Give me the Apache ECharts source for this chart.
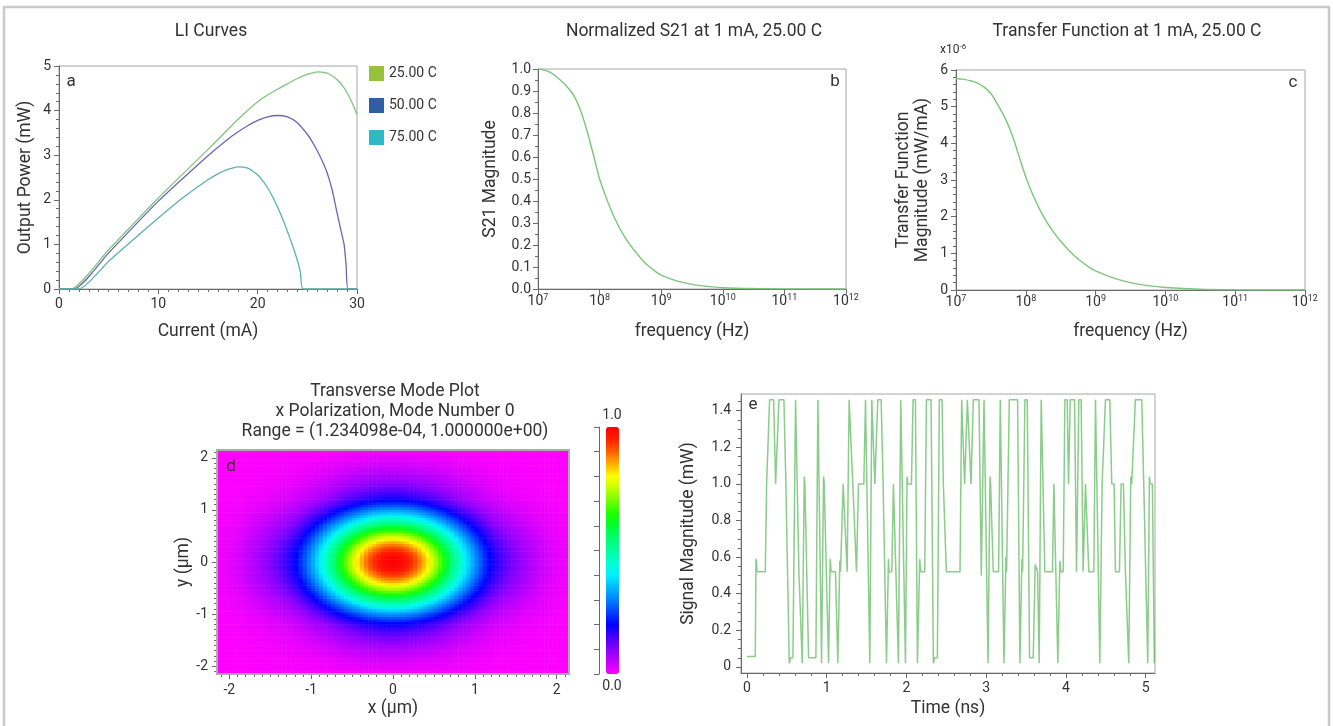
<!DOCTYPE html>
<html>
<head>
<meta charset="utf-8">
<script src="https://cdn.jsdelivr.net/npm/echarts@6/dist/echarts.min.js"></script>
<style>
  html, body { margin: 0; padding: 0; background: #fff; }
  #main { width: 1333px; height: 726px; }
</style>
</head>
<body>
<div id="main"></div>
<script>
// ---------- LI curves (current in mA, output power in mW) ----------
const liNames = ['25.00 C', '50.00 C', '75.00 C'];
const liCurrent25 = [0, 1.2, 5, 10, 15, 18, 20, 21, 22, 23, 24, 25, 26, 27, 27.5, 28, 28.5, 29, 29.5, 30];
const liPower25   = [0, 0, 0.88, 2.04, 3.13, 3.8, 4.2, 4.35, 4.48, 4.6, 4.72, 4.81, 4.87, 4.84, 4.78, 4.69, 4.57, 4.4, 4.18, 3.91];
const liCurrent50 = [0, 1.5, 5, 10, 15, 17, 18, 19, 20, 21, 22, 23, 24, 25, 25.5, 26, 26.5, 27, 27.5, 28, 28.4, 28.7, 28.9, 29.1, 30];
const liPower50   = [0, 0, 0.81, 1.97, 2.99, 3.36, 3.52, 3.66, 3.78, 3.86, 3.89, 3.86, 3.73, 3.47, 3.3, 3.1, 2.87, 2.6, 2.22, 1.7, 1.3, 1.0, 0.55, 0, 0];
const liCurrent75 = [0, 2.0, 5, 10, 12.5, 15, 16, 17, 18, 19, 20, 21, 21.5, 22, 22.5, 23, 23.5, 24, 24.3, 24.6, 30];
const liPower75   = [0, 0, 0.62, 1.59, 2.05, 2.45, 2.58, 2.68, 2.74, 2.71, 2.56, 2.27, 2.07, 1.84, 1.58, 1.29, 0.98, 0.64, 0.38, 0, 0];

// ---------- frequency responses (shared frequency grid, Hz) ----------
const respFreq = [1e7, 1.26e7, 1.58e7, 2.0e7, 2.51e7, 3.16e7, 3.98e7, 5.01e7, 6.31e7, 7.94e7,
                  1e8, 1.26e8, 1.58e8, 2.0e8, 2.51e8, 3.16e8, 3.98e8, 5.01e8, 6.31e8, 7.94e8,
                  1e9, 1.78e9, 3.16e9, 5.62e9, 1e10, 3.16e10, 1e11, 1e12];
// Normalized S21
const s21Mag = [1.0, 0.995, 0.985, 0.965, 0.94, 0.91, 0.87, 0.805, 0.715, 0.61,
                0.5, 0.42, 0.35, 0.29, 0.24, 0.198, 0.163, 0.13, 0.103, 0.081,
                0.063, 0.037, 0.021, 0.012, 0.006, 0.002, 0.0005, 0];
// Transfer function magnitude, x1e-6 mW/mA
const tfMag = [5.77, 5.75, 5.71, 5.65, 5.54, 5.36, 5.05, 4.7, 4.25, 3.67,
               3.08, 2.6, 2.2, 1.85, 1.57, 1.33, 1.12, 0.93, 0.77, 0.63,
               0.52, 0.33, 0.2, 0.12, 0.07, 0.02, 0.005, 0];

// ---------- Transverse mode: field profile sampled at |x| = 0.025, 0.075, ... 2.125 um ----------
const modeProfile = [0.999, 0.994, 0.982, 0.966, 0.944, 0.918, 0.887, 0.852, 0.814, 0.774,
                     0.731, 0.687, 0.641, 0.596, 0.550, 0.505, 0.461, 0.419, 0.378, 0.340,
                     0.303, 0.269, 0.237, 0.205, 0.184, 0.166, 0.150, 0.135, 0.121, 0.108,
                     0.096, 0.085, 0.075, 0.066, 0.057, 0.049, 0.042, 0.035, 0.029, 0.024,
                     0.019, 0.015, 0.0115];
const modeStep = 0.05;
const modeTicks = [-2, -1, 0, 1, 2];
const modeColors = ['#ff00ff', '#c000ff', '#8800ff', '#4400ff', '#0000ff', '#0040ff', '#0080ff',
                    '#00b8ff', '#00f0ff', '#00ffd0', '#00ffa0', '#00ff70', '#00ff30', '#20ff00',
                    '#70ff00', '#c0ff00', '#ffff00', '#ffb000', '#ff6000', '#ff2000', '#ff0000'];

// ---------- Signal trace: [time ns, magnitude mW] ----------
const signalTrace = [
  [0.000,0.057],[0.104,0.057],[0.113,0.59],[0.129,0.52],[0.230,0.52],[0.246,1.0],[0.267,1.0],[0.284,1.46],
  [0.334,1.46],[0.359,1.0],[0.384,1.0],[0.401,1.46],[0.463,1.46],[0.488,1.0],[0.501,1.0],[0.530,0.02],
  [0.547,0.05],[0.576,0.05],[0.609,1.46],[0.622,1.46],[0.651,0.52],[0.664,0.52],[0.693,0.02],[0.718,1.04],
  [0.726,1.0],[0.743,1.0],[0.772,0.05],[0.864,0.05],[0.889,1.46],[0.906,1.46],[0.935,0.02],[0.960,1.04],
  [0.968,1.0],[0.993,1.0],[1.023,0.02],[1.043,0.59],[1.056,0.52],[1.110,0.52],[1.139,0.02],[1.164,0.58],
  [1.173,0.52],[1.206,1.0],[1.231,1.0],[1.256,0.52],[1.281,1.46],[1.306,1.46],[1.327,1.0],[1.352,1.0],
  [1.373,0.52],[1.381,0.52],[1.398,1.0],[1.465,1.0],[1.486,1.46],[1.507,1.46],[1.540,0.02],[1.565,1.46],
  [1.586,1.46],[1.603,1.0],[1.619,1.0],[1.640,1.46],[1.682,1.46],[1.707,1.0],[1.724,1.0],[1.749,0.02],
  [1.774,0.59],[1.782,0.52],[1.816,0.52],[1.836,1.0],[1.861,1.0],[1.899,0.02],[1.928,1.46],[1.949,1.46],
  [1.987,0.02],[2.007,1.04],[2.016,1.0],[2.062,1.0],[2.083,1.46],[2.112,1.46],[2.137,0.02],[2.166,0.59],
  [2.179,0.52],[2.229,0.52],[2.250,1.46],[2.308,1.46],[2.337,0.02],[2.354,0.05],[2.387,0.05],[2.412,1.46],
  [2.446,1.46],[2.462,1.0],[2.479,1.0],[2.500,0.52],[2.671,0.52],[2.692,1.46],[2.713,1.46],[2.729,1.0],
  [2.746,1.0],[2.763,1.46],[2.788,1.46],[2.809,1.0],[2.817,1.0],[2.838,1.46],[2.909,1.46],[2.938,0.5],
  [2.946,0.5],[2.972,1.46],[2.988,1.46],[3.022,0.02],[3.047,1.04],[3.055,1.0],[3.072,1.0],[3.088,0.52],
  [3.155,0.52],[3.176,1.46],[3.197,1.46],[3.222,0.02],[3.247,0.6],[3.255,0.52],[3.268,0.52],[3.289,1.46],
  [3.393,1.46],[3.422,0.02],[3.447,0.59],[3.456,0.52],[3.485,1.46],[3.514,1.46],[3.543,0.05],[3.589,0.05],
  [3.614,0.56],[3.643,0.52],[3.664,0.02],[3.689,1.46],[3.710,1.46],[3.735,0.52],[3.831,0.52],[3.848,1.0],
  [3.873,1.0],[3.898,0.02],[3.923,0.58],[3.936,0.52],[3.965,0.52],[3.986,1.46],[4.015,1.46],[4.032,1.0],
  [4.040,1.0],[4.053,1.46],[4.107,1.46],[4.132,0.52],[4.140,0.52],[4.161,1.46],[4.190,1.46],[4.215,0.52],
  [4.224,0.52],[4.245,1.0],[4.270,1.0],[4.286,0.52],[4.349,0.52],[4.370,1.46],[4.391,1.46],[4.424,0.02],
  [4.453,1.0],[4.474,1.0],[4.495,1.46],[4.549,1.46],[4.574,1.0],[4.603,1.0],[4.620,0.52],[4.670,0.52],
  [4.691,1.0],[4.720,1.0],[4.745,0.52],[4.754,0.52],[4.787,0.02],[4.812,1.04],[4.824,1.0],[4.849,1.0],
  [4.870,1.46],[4.950,1.46],[4.975,1.0],[5.000,1.0],[5.025,0.02],[5.046,1.04],[5.054,1.0],[5.083,1.0],
  [5.108,0.02]
];
const signalTimeTicks = [0, 1, 2, 3, 4, 5];
const signalMagTicks = [0, 0.2, 0.4, 0.6, 0.8, 1.0, 1.2, 1.4];

// ---------- styling ----------
const FONT = 'Roboto, "Noto Sans", sans-serif';
const TXT = '#333';
const AXC = '#6a6a6a';
const BORDER = '#a6a6a6';
const BIG = 17.5;
const tickLabel = { color: TXT, fontFamily: FONT, fontSize: 14 };
const nameStyle = { color: TXT, fontFamily: FONT, fontSize: BIG };
const axLine = { onZero: false, lineStyle: { color: AXC, width: 1 } };
const majTick = { length: 5, lineStyle: { color: AXC } };
const minTick = (n) => ({ show: true, splitNumber: n, length: 3, lineStyle: { color: AXC } });
const noSplit = { show: false };

function zip(a, b) { return a.map((v, i) => [v, b[i]]); }
function steps(from, to, step) {
  const out = [];
  for (let v = from; v <= to + 1e-9; v += step) out.push(Math.round(v * 1000) / 1000);
  return out;
}
const powLabel = {
  ...tickLabel,
  formatter: (v) => '10{s|' + Math.round(Math.log10(v)) + '}',
  rich: { s: { fontSize: 9, color: TXT, fontFamily: FONT, padding: [0, 0, 8, 0] } }
};

// mode field table: outer product of the sampled profile mirrored about 0
const modeFull = modeProfile.slice().reverse().concat(modeProfile);
const modeCats = modeFull.map((_, i) => (-(modeProfile.length - 0.5) * modeStep + i * modeStep).toFixed(3));
const modeData = [];
for (let i = 0; i < modeFull.length; i++) {
  for (let j = 0; j < modeFull.length; j++) {
    modeData.push([i, j, modeFull[i] * modeFull[j]]);
  }
}
const modeHalf = modeProfile.length * modeStep;

function txt(text, x, y, size, extra) {
  return {
    type: 'text', x, y, silent: true, z: 10,
    style: Object.assign({ text, fill: TXT, fontSize: size, fontFamily: FONT, align: 'center', verticalAlign: 'middle' }, extra || {})
  };
}

const chart = echarts.init(document.getElementById('main'), null, { renderer: 'canvas' });
chart.setOption({
  animation: false,
  backgroundColor: '#fff',
  grid: [
    { left: 59, top: 66, width: 298, height: 223, show: true, borderColor: BORDER, borderWidth: 1 },
    { left: 538, top: 69, width: 308, height: 220, show: true, borderColor: BORDER, borderWidth: 1 },
    { left: 956, top: 70, width: 349, height: 220, show: true, borderColor: BORDER, borderWidth: 1 },
    { left: 217, top: 450, width: 352, height: 224, show: true, z: 5, borderColor: '#ababab', borderWidth: 2 },
    { left: 599, top: 427, width: 7, height: 247, show: false },
    { left: 741, top: 394, width: 414, height: 279, show: true, borderColor: BORDER, borderWidth: 1 }
  ],
  legend: {
    orient: 'vertical', left: 369, top: 66, padding: 0, itemWidth: 15, itemHeight: 15, itemGap: 17,
    icon: 'rect', selectedMode: false, textStyle: { color: TXT, fontFamily: FONT, fontSize: 14 },
    data: [
      { name: liNames[0], itemStyle: { color: '#95c13d' } },
      { name: liNames[1], itemStyle: { color: '#2e5fa0' } },
      { name: liNames[2], itemStyle: { color: '#2eb7c4' } }
    ]
  },
  visualMap: {
    type: 'continuous', seriesIndex: 5, min: 0, max: 1, calculable: false, hoverLink: false,
    left: 606, top: 427, itemWidth: 13, itemHeight: 247, padding: 0, text: null, showLabel: false,
    inRange: { color: modeColors }
  },
  xAxis: [
    { gridIndex: 0, type: 'value', min: 0, max: 30, interval: 10, axisLine: axLine, axisTick: majTick,
      minorTick: minTick(10), splitLine: noSplit, axisLabel: { ...tickLabel, margin: 8 },
      name: 'Current (mA)', nameLocation: 'middle', nameGap: 34, nameTextStyle: nameStyle },
    { gridIndex: 1, type: 'log', logBase: 10, min: 1e7, max: 1e12, axisLine: axLine, axisTick: majTick,
      splitLine: noSplit, axisLabel: { ...powLabel, margin: 4 },
      name: 'frequency (Hz)', nameLocation: 'middle', nameGap: 34, nameTextStyle: nameStyle },
    { gridIndex: 2, type: 'log', logBase: 10, min: 1e7, max: 1e12, axisLine: axLine, axisTick: majTick,
      splitLine: noSplit, axisLabel: { ...powLabel, margin: 4 },
      name: 'frequency (Hz)', nameLocation: 'middle', nameGap: 33, nameTextStyle: nameStyle },
    { gridIndex: 3, type: 'category', data: modeCats, show: false },
    { gridIndex: 3, type: 'value', position: 'bottom', min: -modeHalf, max: modeHalf, axisLine: { show: false, onZero: false },
      axisTick: { ...majTick, customValues: modeTicks }, splitLine: noSplit,
      axisLabel: { ...tickLabel, margin: 9, customValues: modeTicks },
      name: 'x (µm)', nameLocation: 'middle', nameGap: 26, nameTextStyle: nameStyle },
    { gridIndex: 3, type: 'value', position: 'bottom', min: -modeHalf, max: modeHalf, axisLine: { show: false, onZero: false },
      axisTick: { length: 3, lineStyle: { color: AXC }, customValues: steps(-2.1, 2.1, 0.1) },
      axisLabel: { show: false }, splitLine: noSplit },
    { gridIndex: 4, type: 'value', show: false },
    { gridIndex: 5, type: 'value', position: 'bottom', min: -0.075, max: 5.116, axisLine: axLine,
      axisTick: { ...majTick, customValues: signalTimeTicks }, splitLine: noSplit,
      axisLabel: { ...tickLabel, margin: 8, customValues: signalTimeTicks },
      name: 'Time (ns)', nameLocation: 'middle', nameGap: 27, nameTextStyle: nameStyle },
    { gridIndex: 5, type: 'value', position: 'bottom', min: -0.075, max: 5.116, axisLine: { show: false, onZero: false },
      axisTick: { length: 3, lineStyle: { color: AXC }, customValues: steps(0, 5.0, 0.2) },
      axisLabel: { show: false }, splitLine: noSplit }
  ],
  yAxis: [
    { gridIndex: 0, type: 'value', min: 0, max: 5, interval: 1, axisLine: axLine, axisTick: majTick,
      minorTick: minTick(5), splitLine: noSplit, axisLabel: { ...tickLabel, margin: 8 },
      name: 'Output Power (mW)', nameLocation: 'middle', nameGap: 24, nameTextStyle: nameStyle },
    { gridIndex: 1, type: 'value', min: 0, max: 1, interval: 0.1, axisLine: axLine, axisTick: majTick,
      minorTick: minTick(2), splitLine: noSplit,
      axisLabel: { ...tickLabel, margin: 7, formatter: (v) => v.toFixed(1) },
      name: 'S21 Magnitude', nameLocation: 'middle', nameGap: 38, nameTextStyle: nameStyle },
    { gridIndex: 2, type: 'value', min: 0, max: 6, interval: 1, axisLine: axLine, axisTick: majTick,
      minorTick: minTick(5), splitLine: noSplit, axisLabel: { ...tickLabel, margin: 8 },
      name: 'Transfer Function\nMagnitude (mW/mA)', nameLocation: 'middle', nameGap: 24,
      nameTextStyle: { ...nameStyle, lineHeight: 19 } },
    { gridIndex: 3, type: 'category', data: modeCats, show: false },
    { gridIndex: 3, type: 'value', position: 'left', min: -modeHalf, max: modeHalf, axisLine: { show: false, onZero: false },
      axisTick: { ...majTick, customValues: modeTicks }, splitLine: noSplit,
      axisLabel: { ...tickLabel, margin: 9, customValues: modeTicks },
      name: 'y (µm)', nameLocation: 'middle', nameGap: 23, nameTextStyle: nameStyle },
    { gridIndex: 3, type: 'value', position: 'left', min: -modeHalf, max: modeHalf, axisLine: { show: false, onZero: false },
      axisTick: { length: 3, lineStyle: { color: AXC }, customValues: steps(-2.1, 2.1, 0.1) },
      axisLabel: { show: false }, splitLine: noSplit },
    { gridIndex: 4, type: 'value', min: 0, max: 1, interval: 0.1, axisLine: axLine,
      axisTick: { length: 5, lineStyle: { color: AXC } }, axisLabel: { show: false }, splitLine: noSplit },
    { gridIndex: 5, type: 'value', position: 'left', min: -0.033, max: 1.491, axisLine: axLine,
      axisTick: { ...majTick, customValues: signalMagTicks }, splitLine: noSplit,
      axisLabel: { ...tickLabel, margin: 10, customValues: signalMagTicks, formatter: (v) => (v === 0 ? '0' : v.toFixed(1)) },
      name: 'Signal Magnitude (mW)', nameLocation: 'middle', nameGap: 43, nameTextStyle: nameStyle },
    { gridIndex: 5, type: 'value', position: 'left', min: -0.033, max: 1.491, axisLine: { show: false, onZero: false },
      axisTick: { length: 3, lineStyle: { color: AXC }, customValues: steps(0, 1.45, 0.05) },
      axisLabel: { show: false }, splitLine: noSplit }
  ],
  series: [
    { type: 'line', name: liNames[0], xAxisIndex: 0, yAxisIndex: 0, data: zip(liCurrent25, liPower25),
      showSymbol: false, smooth: 0.2, lineStyle: { color: '#80c47e', width: 1.3 }, itemStyle: { color: '#95c13d' } },
    { type: 'line', name: liNames[1], xAxisIndex: 0, yAxisIndex: 0, data: zip(liCurrent50, liPower50),
      showSymbol: false, smooth: 0.2, lineStyle: { color: '#6a66b4', width: 1.3 }, itemStyle: { color: '#2e5fa0' } },
    { type: 'line', name: liNames[2], xAxisIndex: 0, yAxisIndex: 0, data: zip(liCurrent75, liPower75),
      showSymbol: false, smooth: 0.2, lineStyle: { color: '#5cb3a6', width: 1.3 }, itemStyle: { color: '#2eb7c4' } },
    { type: 'line', name: 'S21', xAxisIndex: 1, yAxisIndex: 1, data: zip(respFreq, s21Mag),
      showSymbol: false, smooth: 0.3, lineStyle: { color: '#7cc67c', width: 1.4 } },
    { type: 'line', name: 'Transfer', xAxisIndex: 2, yAxisIndex: 2, data: zip(respFreq, tfMag),
      showSymbol: false, smooth: 0.3, lineStyle: { color: '#7cc67c', width: 1.4 } },
    { type: 'heatmap', name: 'mode', xAxisIndex: 3, yAxisIndex: 3, data: modeData, progressive: 0,
      emphasis: { disabled: true }, itemStyle: { borderWidth: 0 } },
    { type: 'line', name: 'signal', xAxisIndex: 7, yAxisIndex: 7, data: signalTrace,
      showSymbol: false, lineStyle: { color: 'rgba(60,170,60,0.6)', width: 1.5 } }
  ],
  graphic: [
    { type: 'rect', silent: true, z: 0, shape: { x: 4, y: 7, width: 1325, height: 740 },
      style: { fill: 'none', stroke: '#cacaca', lineWidth: 2.5 } },
    txt('LI Curves', 211, 32, BIG),
    txt('Normalized S21 at 1 mA, 25.00 C', 694, 32, BIG),
    txt('Transfer Function at 1 mA, 25.00 C', 1127, 32, BIG),
    txt('Transverse Mode Plot\nx Polarization, Mode Number 0\nRange = (1.234098e-04, 1.000000e+00)', 395, 412, BIG, { lineHeight: 20 }),
    txt('a', 71, 82, 17),
    txt('b', 835, 82, 17),
    txt('c', 1293, 83, 17),
    txt('d', 231, 467, 17),
    txt('e', 753, 405, 17),
    txt('1.0', 612, 415, 14),
    txt('0.0', 612, 686, 14),
    txt('x10{s|-6}', 940, 50, 12, { align: 'left', rich: { s: { fontSize: 8, fill: TXT, fontFamily: FONT, padding: [0, 0, 7, 0] } } })
  ]
});
</script>
</body>
</html>
